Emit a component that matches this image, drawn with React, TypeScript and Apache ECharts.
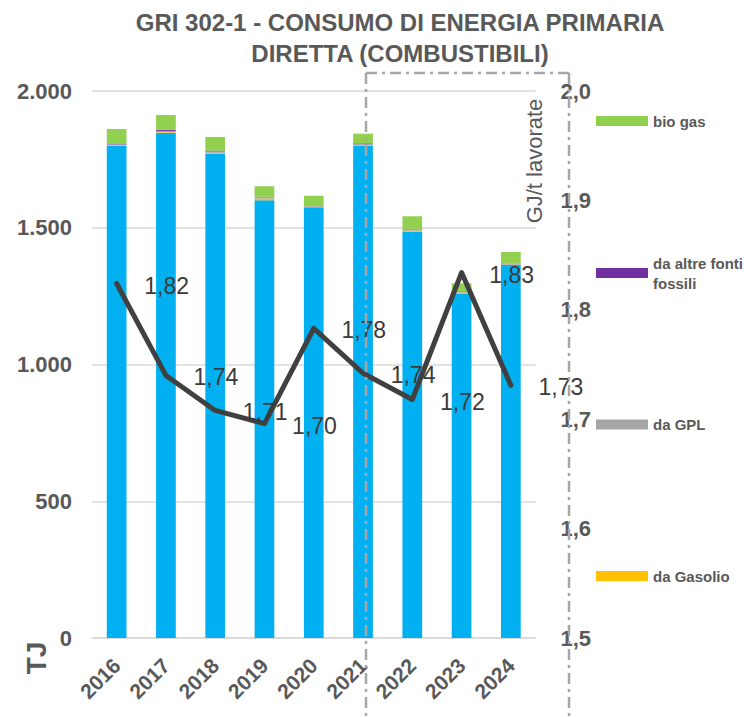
import React, { useEffect, useRef } from "react";
import * as echarts from "echarts";

const years = ["2016", "2017", "2018", "2019", "2020", "2021", "2022", "2023", "2024"];
const gasNaturale = [1800, 1846, 1770, 1601, 1575, 1800, 1486, 1260, 1364];
const gasolio = [2, 3, 4, 6, 2, 2, 4, 3, 1];
const gpl = [3, 5, 5, 5, 4, 5, 5, 5, 3];
const altreFossili = [3, 4, 3, 1, 1, 2, 1, 1, 1];
const bioGas = [53, 54, 50, 39, 35, 35, 46, 28, 42];
const intensity = [1.824, 1.74, 1.708, 1.696, 1.783, 1.742, 1.718, 1.834, 1.731];

const FONT = "'Liberation Sans', Arial, sans-serif";
const GREY = "#595959";

const fmtThousands = (v: number) =>
  v >= 1000 ? Math.floor(v / 1000) + "." + String(v % 1000).padStart(3, "0") : String(v);

export default function App() {
  const ref = useRef<HTMLDivElement>(null);
  useEffect(() => {
    if (!ref.current) return;
    const chart = echarts.init(ref.current, undefined, { renderer: "svg" });
    const barSeries = (name: string, data: number[], color: string) => ({
      name,
      type: "bar",
      stack: "tot",
      data,
      barWidth: "40%",
      itemStyle: { color },
      emphasis: { disabled: true },
    });
    const legendItem = (name: string, top: number, twoLine = false) => ({
      data: [name],
      orient: "vertical",
      left: 596,
      top,
      padding: 0,
      itemWidth: 52,
      itemHeight: 10,
      itemGap: 0,
      icon: "rect",
      selectedMode: false,
      formatter: twoLine ? "da altre fonti\nfossili" : undefined,
      textStyle: {
        fontFamily: FONT,
        fontSize: 15,
        fontWeight: "bold",
        color: GREY,
        lineHeight: 20,
        padding: twoLine ? [20, 0, 0, 0] : 0,
      },
    });
    const dash = { stroke: "#A6A6A6", lineWidth: 2.5, lineDash: [11, 5, 3, 5] };
    chart.setOption({
      animation: false,
      grid: { left: 92, right: 219.5, top: 91, bottom: 79 },
      legend: [
        legendItem("bio gas", 111),
        legendItem("da altre fonti fossili", 243, true),
        legendItem("da GPL", 414.5),
        legendItem("da Gasolio", 566),
      ],
      xAxis: {
        type: "category",
        data: years,
        axisTick: { show: false },
        axisLine: { lineStyle: { color: "#D9D9D9", width: 1.5 } },
        axisLabel: {
          rotate: 45,
          margin: 24,
          fontFamily: FONT,
          fontSize: 21,
          fontWeight: "bold",
          color: GREY,
        },
      },
      yAxis: [
        {
          type: "value",
          min: 0,
          max: 2000,
          interval: 500,
          axisLabel: {
            margin: 20,
            fontFamily: FONT,
            fontSize: 22,
            fontWeight: "bold",
            color: GREY,
            formatter: fmtThousands,
          },
          splitLine: { lineStyle: { color: "#D9D9D9", width: 1.5 } },
        },
        {
          type: "value",
          min: 1.5,
          max: 2.0,
          interval: 0.1,
          position: "right",
          axisLine: { show: false },
          axisTick: { show: false },
          splitLine: { show: false },
          axisLabel: {
            margin: 25,
            fontFamily: FONT,
            fontSize: 22,
            fontWeight: "bold",
            color: GREY,
            formatter: (v: number) => v.toFixed(1).replace(".", ","),
          },
        },
      ],
      series: [
        barSeries("da gas naturale", gasNaturale, "#00B0F0"),
        barSeries("da Gasolio", gasolio, "#FFC000"),
        barSeries("da GPL", gpl, "#A5A5A5"),
        barSeries("da altre fonti fossili", altreFossili, "#7030A0"),
        barSeries("bio gas", bioGas, "#92D050"),
        {
          name: "GJ/t lavorate",
          type: "line",
          yAxisIndex: 1,
          data: intensity,
          symbol: "circle",
          symbolSize: 2,
          showSymbol: true,
          itemStyle: { color: "#404040" },
          lineStyle: { color: "#404040", width: 5, cap: "round", join: "round" },
          emphasis: { disabled: true },
          label: {
            show: true,
            position: "inside",
            offset: [50, 2],
            fontFamily: FONT,
            fontSize: 23,
            color: "#3a3a3a",
            formatter: (p: any) => Number(p.value).toFixed(2).replace(".", ","),
          },
          z: 5,
        },
      ],
      graphic: [
        {
          type: "text",
          x: 400,
          y: 7,
          z: 100,
          style: {
            text: "GRI 302-1 - CONSUMO DI ENERGIA PRIMARIA\nDIRETTA (COMBUSTIBILI)",
            textAlign: "center",
            textVerticalAlign: "top",
            fontFamily: FONT,
            fontSize: 24,
            fontWeight: "bold",
            lineHeight: 31,
            fill: GREY,
          },
        },
        {
          type: "text",
          x: 36,
          y: 658,
          rotation: Math.PI / 2,
          z: 100,
          style: {
            text: "TJ",
            textAlign: "center",
            textVerticalAlign: "middle",
            fontFamily: FONT,
            fontSize: 28,
            fontWeight: "bold",
            fill: GREY,
          },
        },
        {
          type: "text",
          x: 534,
          y: 161,
          rotation: Math.PI / 2,
          z: 100,
          style: {
            text: "GJ/t lavorate",
            textAlign: "center",
            textVerticalAlign: "middle",
            fontFamily: FONT,
            fontSize: 22,
            fill: GREY,
          },
        },
        { type: "line", z: 100, shape: { x1: 366, y1: 73, x2: 366, y2: 717 }, style: dash },
        { type: "line", z: 100, shape: { x1: 366, y1: 73, x2: 569, y2: 73 }, style: dash },
        { type: "line", z: 100, shape: { x1: 569, y1: 73, x2: 569, y2: 717 }, style: dash },
      ],
    });
    return () => chart.dispose();
  }, []);
  return (
    <div
      ref={ref}
      style={{ position: "fixed", left: 0, top: 0, width: 755, height: 717, background: "#fff" }}
    />
  );
}
